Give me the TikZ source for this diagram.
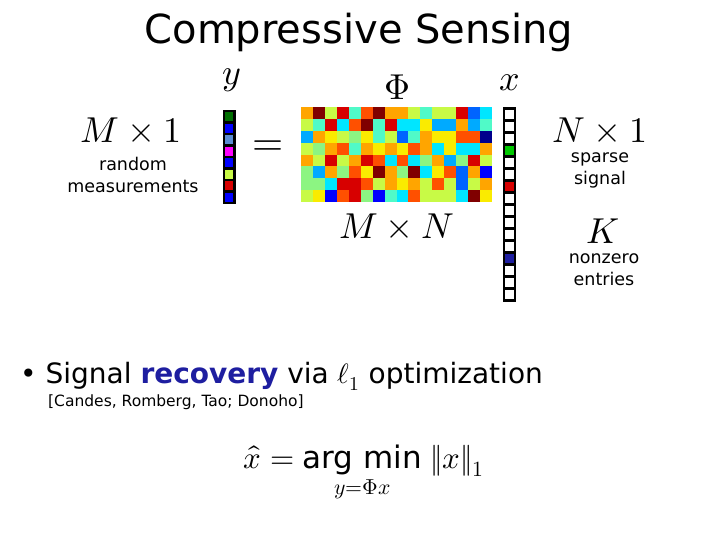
\documentclass[tikz,border=0pt]{standalone}
\usepackage{amsmath}
\usepackage{fontspec}
\setmainfont{DejaVu Sans}
\usepackage{unicode-math}
\definecolor{DR}{RGB}{128,0,0}
\definecolor{R}{RGB}{215,0,0}
\definecolor{OR}{RGB}{255,80,0}
\definecolor{O}{RGB}{255,165,0}
\definecolor{Y}{RGB}{250,235,0}
\definecolor{YG}{RGB}{200,250,70}
\definecolor{LG}{RGB}{140,245,130}
\definecolor{AQ}{RGB}{80,250,200}
\definecolor{C}{RGB}{0,230,255}
\definecolor{DS}{RGB}{0,170,255}
\definecolor{AZ}{RGB}{0,100,255}
\definecolor{B}{RGB}{0,0,255}
\definecolor{NV}{RGB}{0,0,140}
\definecolor{DG}{RGB}{0,110,0}
\definecolor{G}{RGB}{0,200,0}
\definecolor{SB}{RGB}{90,140,210}
\definecolor{MG}{RGB}{255,0,255}
\definecolor{RB}{RGB}{30,30,160}
\setmathfont{Latin Modern Math}
\begin{document}
\begin{tikzpicture}[x=1pt,y=-1pt,
  lbl/.style={inner sep=0pt,align=center},
  mth/.style={lbl,font=\fontsize{36}{36}\selectfont},
  vcell/.style={draw=black,line width=2.5pt}]
\useasboundingbox (0,0) rectangle (720,540);
\node[lbl,font=\fontsize{40}{44}\selectfont] (title) at (359,32) {Compressive Sensing};
% matrix
\foreach \row [count=\r from 0] in {
 {O,DR,YG,R,AQ,OR,DR,O,O,YG,AQ,YG,YG,R,AZ,C},
 {YG,AQ,R,C,OR,DR,AQ,R,C,C,Y,DS,DS,O,DS,AQ},
 {DS,O,Y,YG,LG,Y,AQ,YG,AZ,AQ,O,Y,Y,OR,OR,NV},
 {YG,LG,O,OR,AQ,O,Y,O,Y,OR,O,C,Y,C,C,O},
 {O,YG,R,YG,O,R,OR,C,OR,C,LG,O,DS,LG,R,YG},
 {LG,DS,O,LG,OR,Y,DR,O,LG,DR,C,Y,OR,AZ,O,B},
 {LG,LG,C,R,R,OR,YG,O,Y,O,YG,OR,YG,AZ,YG,O},
 {YG,Y,B,OR,R,LG,B,AQ,C,OR,YG,YG,YG,C,DR,Y}}{
  \foreach \c [count=\i from 0] in \row {
    \fill[\c] (301+\i*11.94,107+\r*11.9) rectangle ++(11.94,11.9);
  }
}
% y vector
\foreach \c [count=\i from 0] in {DG,B,SB,MG,B,YG,R,B}{
  \draw[vcell,fill=\c] (224,111+\i*11.5) rectangle ++(10.5,11.5);
}
% x vector
\foreach \c [count=\i from 0] in {white,white,white,G,white,white,R,white,white,white,white,white,RB,white,white,white}{
  \draw[vcell,fill=\c] (504,108.5+\i*12) rectangle ++(11,12);
}
\node[mth] (ylab) at (232,80) {$y$};
\node[mth] (philab) at (397,87) {$\Phi$};
\node[mth] (xlab) at (510,83) {$x$};
\node[mth] (m1) at (131,130) {$M\times 1$};
\node[mth] (n1) at (600,130) {$N\times 1$};
\node[mth] (mn) at (397,226) {$M\times N$};
\node[mth] (k) at (603,231) {$K$};
\node[lbl,font=\fontsize{40}{40}\selectfont] (eq) at (268,148) {$=$};
\node[lbl,font=\fontsize{17.5}{22}\selectfont] (rm) at (133,175) {random\\measurements};
\node[lbl,font=\fontsize{17.5}{22}\selectfont] (ss) at (600,170) {sparse\\signal};
\node[lbl,font=\fontsize{17.5}{22}\selectfont] (ne) at (604,270) {nonzero\\entries};
\node[lbl,anchor=west,font=\fontsize{28}{32}\selectfont] (bul) at (20,376) {• Signal \textcolor{RB}{\textbf{recovery}} via $\ell_1$ optimization};
\node[lbl,anchor=west,font=\fontsize{15.5}{18}\selectfont] (ref) at (48,402) {[Candes, Romberg, Tao; Donoho]};
\node[lbl,font=\fontsize{31}{34}\selectfont] (form) at (364,474) {$\widehat{x}=\underset{y=\Phi x}{\text{arg min}}\;\|x\|_1$};
\end{tikzpicture}
\end{document}
